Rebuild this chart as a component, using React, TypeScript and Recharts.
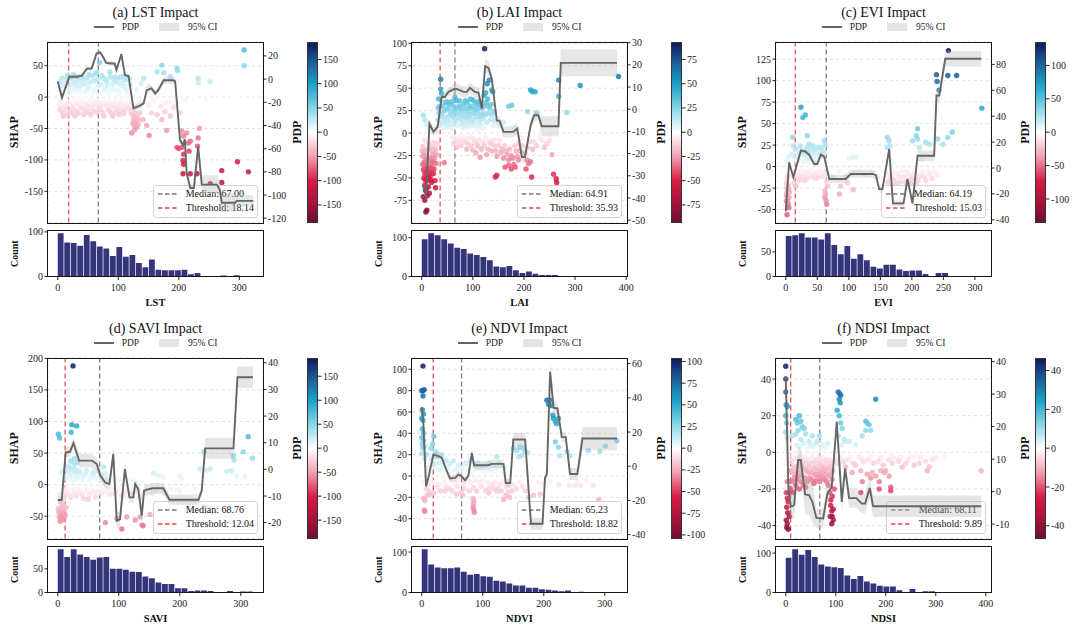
import React from 'react'
import {
  ComposedChart, BarChart, Bar, Scatter, Line, Area, XAxis, YAxis,
  CartesianGrid, ReferenceLine,
} from 'recharts'

type Pt = [number, number]
type PdpPt = [number, number, number] // x, pdp, half width of the 95% CI

// ---------- (a) LST ----------
const lstScatter: Pt[] = [
  [3, 12], [6, 18], [9, 8], [12, 22], [15, 28], [18, 14], [21, 30], [24, 10], [27, 25], [30, 18], [33, 32], [36, 12],
  [39, 26], [42, 20], [45, 8], [48, 30], [51, 16], [54, 24], [57, 34], [60, 12], [63, 38], [66, 28], [69, 55], [64, 39],
  [72, 20], [75, 30], [78, 14], [81, 24], [84, 10], [87, 32], [90, 20], [93, 27], [95, 32], [98, 12], [101, 22], [104, 32],
  [108, 33], [111, 18], [114, 28], [117, 10], [120, 20], [10, 4], [25, 5], [40, 3], [55, 6], [70, 4], [85, 5], [100, 3], [115, 6],
  [4, 25], [7, 30], [13, 16], [16, 35], [19, 8], [22, 20], [26, 36], [29, 12], [31, 24], [34, 6], [37, 18], [43, 30],
  [46, 22], [49, 12], [52, 36], [58, 8], [61, 26], [67, 18], [73, 34], [76, 10], [79, 28], [82, 18], [86, 40], [91, 12],
  [96, 24], [99, 30], [102, 8], [106, 18], [109, 26], [112, 12], [118, 30],
  [2, -10], [5, -16], [8, -24], [11, -12], [14, -20], [17, -8], [20, -26], [23, -14], [26, -18], [29, -6], [32, -22], [35, -12],
  [38, -16], [41, -8], [44, -20], [47, -4], [50, -14], [53, -18], [56, -8], [59, -22], [62, -12], [65, -5], [68, -16], [71, -10],
  [74, -24], [77, -6], [80, -14], [83, -20], [86, -8], [89, -26], [92, -12], [95, -18], [98, -6], [101, -28], [104, -10],
  [107, -22], [110, -14], [113, -4], [116, -18], [119, -8],
  [3, -20], [6, -6], [9, -30], [13, -16], [16, -28], [19, -12], [22, -4], [25, -22], [28, -30], [31, -10], [34, -26],
  [37, -4], [40, -18], [43, -28], [46, -12], [49, -24], [52, -6], [55, -28], [58, -14], [61, -4], [64, -24], [67, -8],
  [70, -20], [73, -14], [76, -30], [79, -10], [82, -4], [85, -22], [88, -14], [91, -30], [94, -8], [97, -24], [100, -14],
  [103, -20], [106, -4], [109, -26], [112, -20], [118, -12],
  [121, -24], [124, -20], [126, -30], [128, -38], [130, -34], [132, -28], [134, -36], [127, -52], [130, -48], [124, -42],
  [122, -17], [123, -28], [125, -36], [126, -22], [127, -46], [128, -32], [129, -40], [131, -26], [133, -44], [122, -57],
  [136, -25], [141, -36], [147, -45], [151, -61], [155, -25], [164, -28], [172, -36], [177, -23], [180, -53], [186, -30],
  [191, -17], [194, -14], [202, -25], [205, -54], [208, -62], [213, -57], [219, -70], [197, -80], [200, -82], [205, -80],
  [208, -91], [216, -73], [207, -101], [208, -107], [207, -122], [219, -122], [217, -86], [230, -122], [231, -78], [234, -50],
  [232, -65], [252, -138], [271, -117], [271, -136], [297, -103], [315, -119],
  [135, -8], [140, -4], [150, -12], [158, -6], [160, -3], [170, -15], [178, -9], [185, -8], [195, -3], [210, -5], [225, -2],
  [245, -4], [293, 0],
  [142, 30], [164, 40], [172, 51], [175, 39], [186, 33], [197, 46], [198, 42], [232, 30], [232, 23], [252, 25], [308, 75],
  [308, 50], [150, 18], [160, 10], [130, 12], [138, 22],
]
const lstPdp: PdpPt[] = [
  [0, -2, 2], [7, -16, 2], [19, 2, 2], [32, 2, 2], [40, 3, 2], [48, 9, 2], [56, 9, 2], [64, 22, 2], [70, 23, 2], [75, 19, 2],
  [80, 14, 2], [89, 13.5, 2], [94, 13.5, 2], [97, 8, 2], [105, 21.5, 2], [111, 3.5, 2], [117, 2.6, 2], [125, -25, 2.5],
  [135, -23, 2.5], [142, -21, 2.5], [147, -9.5, 2.5], [155, -8, 2.5], [161, -12.4, 2.5], [166, -9.5, 2.5], [175, -1, 3],
  [191, -1, 3], [194, -2, 3], [202, -52.6, 3], [207, -57, 3], [210, -52, 3], [213, -81, 3], [219, -94, 3], [225, -94, 3],
  [232, -58, 3], [238, -91, 8], [263, -91, 8], [268, -96, 8], [271, -106.6, 8], [293, -106.6, 8], [296, -105, 5], [323, -105, 5],
]
const lstCounts = [97, 76, 75, 69, 93, 79, 67, 63, 46, 66, 44, 48, 30, 21, 38, 15, 14, 14, 14, 15, 5, 8, 0, 0, 1, 2, 0, 3, 0, 1]

// ---------- (b) LAI ----------
const laiScatter: Pt[] = [
  [2, -26], [3, -41], [6, -45], [10, -53], [13, -60], [17, -45], [23, -45], [26, -53], [27, -61], [15, -67], [8, -88],
  [10, -86], [3, -71], [6, -58], [13, -38], [20, -34], [10, -26], [16, -19], [26, -12], [2, -15], [5, -8], [4, -33],
  [7, -30], [12, -48], [18, -38], [22, -28], [8, -20], [14, -12], [24, -22], [19, -55],
  [1, -20], [2, -35], [4, -24], [4, -50], [5, -40], [7, -52], [8, -36], [9, -44], [9, -62], [11, -30], [11, -40], [12, -18],
  [14, -50], [15, -32], [16, -44], [17, -28], [18, -52], [19, -16], [20, -46], [21, -24], [21, -40], [22, -10], [23, -32],
  [24, -40], [25, -28], [27, -18], [28, -34], [29, -24], [30, -12], [6, -75], [11, -70], [7, -64],
  [3, 20], [6, 15], [13, 7], [9, 10], [18, 4],
  [37, 60], [37, 49], [39, 44], [44, -33], [32, 28], [35, 30], [38, 18], [40, 22], [43, 12], [45, 15], [48, 26], [50, 35],
  [53, 8], [55, 10], [58, 20], [60, 25], [63, 14], [65, 40], [68, 36], [70, 18], [73, 30], [75, 28], [78, 10], [80, 12],
  [83, 24], [85, 36], [88, 16], [90, 20], [93, 28], [95, 38], [98, 12], [100, 15], [100, 37], [103, 22], [105, 26], [108, 32],
  [110, 35], [113, 18], [115, 10], [118, 28], [120, 22], [122, 42], [125, 45], [128, 55], [132, 59], [137, 48], [139, 46],
  [130, 30], [135, 15], [140, 8], [50, 6], [80, 5], [110, 4], [123, 94], [60, 5], [90, 7], [36, 8], [120, 6],
  [31, 15], [33, 38], [34, 22], [36, 12], [41, 30], [42, 6], [44, 25], [46, 34], [47, 10], [49, 18], [51, 28], [52, 14],
  [54, 32], [56, 22], [57, 8], [59, 35], [61, 18], [62, 30], [64, 10], [66, 24], [67, 14], [69, 28], [71, 8], [72, 22],
  [74, 36], [76, 16], [77, 26], [79, 20], [81, 32], [82, 8], [84, 18], [86, 28], [87, 10], [89, 34], [91, 14], [92, 24],
  [94, 18], [96, 30], [97, 8], [99, 22], [101, 28], [102, 12], [104, 34], [106, 18], [107, 8], [109, 24], [111, 28],
  [112, 14], [114, 20], [116, 32], [117, 6], [119, 16], [121, 30], [124, 20], [126, 34], [127, 12], [129, 38], [131, 22],
  [133, 28], [136, 32], [138, 20], [141, 24], [143, 14],
  [60, -5], [70, -10], [80, -8], [90, -12], [100, -6], [100, -19], [108, -13], [110, -15], [114, -27], [120, -10], [130, -18],
  [140, -8], [150, -14], [155, -22], [160, -28], [165, -20], [170, -30], [175, -25], [180, -35], [185, -20], [190, -12],
  [195, -6], [220, -10], [230, -5], [245, -12], [250, -8], [75, -4], [95, -3], [125, -5], [145, -20], [135, -12],
  [62, -12], [65, -6], [68, -16], [72, -6], [77, -14], [82, -4], [85, -10], [88, -18], [92, -6], [97, -14], [103, -9],
  [106, -22], [112, -8], [117, -18], [122, -14], [127, -24], [132, -10], [137, -20], [142, -14], [147, -26], [152, -8],
  [157, -18], [162, -14], [167, -24], [172, -18], [178, -28], [182, -14], [187, -26], [192, -20], [197, -14], [202, -22],
  [207, -16], [212, -10], [217, -18], [225, -14], [235, -8], [240, -16],
  [144, -49], [147, -47], [163, -38], [170, -36], [175, -40], [183, -38], [176, -27], [189, -30], [206, -30], [209, -34],
  [213, -32], [204, -40], [215, -49], [258, -46], [263, -51], [264, -55], [255, -24],
  [170, 30], [176, 31], [213, 48], [217, 46], [222, 46], [207, 24], [225, 22], [268, 59], [268, 41], [284, 23], [310, 53],
  [385, 63], [199, -2], [238, 0], [251, -2], [160, 12], [150, 8], [180, 6],
]
const laiPdp: PdpPt[] = [
  [2, -34, 2], [8.5, -39.3, 2], [15, -6.5, 2], [23, -10.2, 2], [31, -8, 2], [39, 5.5, 2], [45, 5.5, 2], [52, 7.8, 2],
  [65, 9.3, 2.5], [72, 8.8, 2.5], [81.5, 7.8, 2.5], [88, 7.8, 2.5], [94.6, 9.6, 2.5], [104, 7.8, 2.5], [111, 7.5, 2.5],
  [117.4, 0.3, 2], [124, 19.4, 3], [130.5, 18.6, 3], [137, 13.8, 3], [146.8, -5, 2], [152, -5.2, 2], [160, -10.2, 2.5],
  [179, -10.2, 2.5], [187, -8.7, 2.5], [195.7, -21.5, 2.5], [202, -21.5, 2.5], [213, -7.2, 2.5], [220, -2.7, 2.5],
  [228, -2.7, 2.5], [235, -7.7, 4.5], [267.5, -7.7, 4.5], [272, 20.9, 6], [382, 20.9, 6],
]
const laiCounts = [96, 111, 106, 96, 85, 74, 71, 59, 55, 50, 42, 26, 24, 27, 16, 9, 13, 7, 4, 4, 4, 0, 1, 0, 0, 0, 0, 0, 0, 1]

// ---------- (c) EVI ----------
const eviScatter: Pt[] = [
  [1, -34], [3, -40], [4, -44], [2, -56], [3, -29], [5, -36], [1, -19], [3, -11], [4, 11], [1, 7], [8, 14], [11, 34],
  [12, 24], [13, -19], [16, -23], [11, -11], [24, 69], [27, 57], [31, 60], [34, 36], [33, 22], [37, 26], [45, 20], [53, 22],
  [61, 30], [58, 18], [2, -25], [6, -30], [5, -48], [8, -5],
  [1, -40], [2, -30], [3, -47], [4, -22], [2, -14], [5, -26],
  [18, 8], [22, 15], [28, 5], [35, 12], [40, 18], [48, 7], [55, 14], [60, 3], [42, 3], [30, 10], [50, 22], [63, 25],
  [14, 12], [16, 20], [19, 4], [21, 10], [23, 24], [26, 18], [29, 14], [31, 6], [33, 16], [36, 20], [38, 8], [41, 14],
  [43, 24], [46, 12], [49, 16], [51, 6], [54, 10], [57, 22], [59, 12], [62, 16], [64, 6],
  [15, -8], [20, -14], [25, -12], [35, -6], [45, -10], [55, -5], [65, -8], [75, -12], [85, -6], [95, -10], [105, -8],
  [115, -4], [125, -9], [135, -6], [145, -12], [155, -5], [30, -16], [50, -13],
  [17, -10], [19, -6], [22, -16], [24, -8], [27, -4], [29, -12], [32, -8], [34, -14], [37, -10], [39, -4], [42, -12],
  [44, -6], [47, -14], [49, -8], [52, -10], [54, -4], [57, -12], [59, -6], [61, -10],
  [62, -36], [64, -40], [65, -44], [62, -28], [66, -23], [65, -17], [63, -32],
  [85, -32], [87, -23], [98, -19], [107, -27], [106, 11], [111, 11], [101, 10],
  [160, -10], [165, -15], [170, -8], [175, -20], [180, -12], [185, -6], [190, -18], [195, -10], [200, -14], [205, -7],
  [210, -16], [215, -9], [220, -12], [225, -5], [230, -10], [168, -22], [198, -20],
  [158, -6], [162, -18], [167, -12], [172, -16], [177, -8], [182, -18], [187, -12], [192, -6], [197, -16], [202, -10],
  [207, -20], [212, -12], [217, -6], [222, -16], [227, -8], [232, -14], [236, -6], [240, -10],
  [161, 34], [164, 30], [165, 24], [161, 22], [209, 44], [207, 36], [209, 32], [201, 30], [212, 22], [222, 28], [228, 26],
  [241, 32], [249, 26], [257, 34], [264, 40], [239, 107], [240, 99], [243, 89], [257, 106], [258, 135], [271, 106],
  [311, 68], [170, 5], [215, 8],
]
const eviPdp: PdpPt[] = [
  [0, -33.5, 2], [5.3, 4.4, 2], [12, -7.2, 2], [23.8, 13.4, 2], [30.7, 12.9, 2], [37, 10.3, 2], [45, 3.1, 2], [50, 3.1, 2],
  [55.5, 10.3, 2], [61, 8.8, 2], [69, -8.5, 3], [95, -8.5, 3], [103, -4.6, 3], [137.6, -4.6, 3], [143, -5.5, 3],
  [148, -16.3, 3], [153.4, -16.3, 3], [164, 14.7, 2], [170, -27.3, 2], [186.8, -27.3, 2], [193, -8.5, 2], [201, -27.3, 2],
  [209, 9.5, 4], [235.4, 9.5, 4], [239, 56, 5], [243.4, 56, 5], [253, 84.4, 6], [310, 84.4, 6],
]
const eviCounts = [82, 84, 88, 79, 79, 75, 88, 64, 45, 62, 36, 45, 33, 20, 16, 24, 24, 14, 11, 12, 12, 5, 0, 7, 7, 0, 0, 0, 0, 1]

// ---------- (d) SAVI ----------
const saviScatter: Pt[] = [
  [25, 188], [1, 80], [3, 74], [22, 83], [23, 95], [31, 93], [27, 41], [28, 33], [18, 29], [21, 37], [7, 21],
  [1, -38], [3, -51], [7, -48], [4, -58], [12, -47], [10, -40], [9, -32], [4, -16], [12, -11], [15, -6], [48, -23],
  [50, -23], [6, -28], [14, -36], [2, -44], [10, -55], [3, -42], [5, -52], [8, -45], [11, -50], [6, -36], [9, -24],
  [15, 10], [20, 18], [25, 5], [30, 14], [35, 22], [40, 8], [45, 16], [50, 3], [55, 12], [60, 20], [65, 7], [70, 15],
  [75, 28], [32, 35], [28, 20],
  [10, 14], [12, 24], [17, 8], [19, 22], [22, 12], [24, 26], [27, 8], [29, 24], [33, 10], [37, 18], [42, 12], [47, 22],
  [52, 8], [57, 18], [62, 12], [67, 22], [72, 8], [77, 18], [82, 12], [87, 6], [92, 10], [97, 4], [102, 8],
  [15, -10], [25, -6], [35, -14], [45, -4], [55, -9], [65, -12], [75, -8], [85, -15], [95, -10], [105, -18], [115, -6],
  [125, -12], [135, -20], [145, -9], [155, -14], [165, -5], [180, -5], [195, -8], [210, -4], [225, -6], [70, -4], [90, -6],
  [12, -18], [17, -14], [20, -4], [22, -20], [27, -12], [30, -18], [32, -4], [37, -8], [40, -16], [42, -22], [47, -10],
  [52, -16], [57, -4], [60, -12], [62, -20], [67, -6], [72, -14], [77, -4], [80, -10], [87, -8], [92, -14], [100, -6],
  [110, -12], [118, -10], [130, -8], [140, -14], [150, -6], [160, -10], [170, -8], [175, -14], [185, -6], [200, -10],
  [78, -60], [97, -54], [105, -70], [113, -51], [127, -56], [135, -51], [138, -64], [140, -65], [151, -47],
  [157, 18], [165, 15], [173, 11], [200, 13], [203, 10], [192, 5], [233, 25], [240, 52], [244, 23], [250, 25], [277, 21],
  [285, 22], [288, 46], [289, 39], [304, 52], [312, 76], [319, 42], [307, 13], [293, 14], [120, 8], [140, 5],
]
const saviPdp: PdpPt[] = [
  [0, -11.5, 1.5], [6.5, -11.5, 1.5], [13, 6.4, 2], [20, 6.6, 2], [25.7, 9.9, 2], [35, 3.3, 2.5], [47.5, 3.3, 2.5],
  [56, 3.3, 2.5], [64, 2, 2.5], [69.4, -2.1, 2], [77.6, -4.9, 2], [84.7, -5.5, 2], [91, 5.8, 3], [96.7, -19.3, 3],
  [102, -18.7, 3], [110, 0.1, 3], [117.5, -10.5, 2], [124, -10.5, 2], [126.8, -5.5, 2], [132, -7.4, 2], [137.7, -17.4, 3],
  [141.5, -8, 2], [146, -7.6, 2], [155.7, -7.1, 2], [173, -7.1, 2], [183, -11.4, 2], [230.6, -11.4, 2], [236, -8, 2],
  [241.5, 7.9, 3.9], [288, 7.9, 3.9], [294.5, 34.6, 4], [320, 34.6, 4],
]
const saviCounts = [91, 75, 91, 80, 75, 69, 74, 75, 50, 50, 48, 44, 43, 34, 30, 21, 18, 18, 9, 9, 3, 4, 4, 3, 0, 0, 3, 0, 2, 2]

// ---------- (e) NDVI ----------
const ndviScatter: Pt[] = [
  [2, 103], [0, 80], [2, 80], [4, 81], [2, 75], [0, 54], [2, 52], [0, 36], [3, 33], [2, 26], [0, 21], [20, 37], [18, 30],
  [22, 23], [15, 26], [26, 21], [33, 20], [1, 44], [3, 40], [1, 30], [4, 28], [1, 62], [3, 58],
  [4, -32], [5, -33], [3, -21], [5, -23], [9, -18], [7, -12], [14, -17], [3, -6],
  [10, 8], [20, 12], [30, 6], [40, 15], [50, 4], [60, 10], [70, 3], [80, 14], [90, 7], [100, 5], [110, 12], [120, 4],
  [130, 9], [140, 3],
  [5, 16], [8, 20], [12, 4], [16, 16], [22, 8], [24, 18], [28, 12], [32, 4], [36, 10], [42, 8], [46, 12], [52, 14],
  [56, 6], [62, 4], [66, 8], [72, 12], [76, 6], [82, 4], [86, 10], [92, 12], [96, 8], [102, 10], [106, 4], [112, 6],
  [116, 10], [122, 8], [126, 12], [132, 4], [136, 8],
  [15, -5], [25, -10], [35, -3], [45, -12], [55, -7], [65, -15], [75, -4], [85, -11], [95, -6],
  [105, -14], [115, -8], [125, -12], [135, -5], [145, -9],
  [10, -8], [12, -14], [18, -6], [20, -16], [28, -8], [30, -14], [38, -6], [40, -10], [48, -4], [50, -14], [58, -10],
  [60, -4], [68, -8], [70, -12], [78, -14], [80, -6], [88, -4], [90, -14], [98, -10], [100, -4], [108, -6], [110, -16],
  [118, -12], [120, -6], [128, -8], [130, -14], [138, -10], [140, -6], [150, -8], [155, -12], [160, -6], [165, -10], [170, -14],
  [84, -21], [85, -23], [84, -29], [85, -31], [86, -34], [85, -26],
  [134, -22], [138, -18], [144, -20], [142, -15], [148, -14], [123, -14], [115, -10], [109, -12], [57, -17], [38, -14], [67, -18],
  [150, 26], [156, 24], [161, 27], [166, 26], [169, 23], [173, 22], [164, 19], [159, 18], [123, 18],
  [175, -20], [183, -18], [194, -17], [200, -7], [191, -6],
  [205, 71], [208, 67], [210, 71], [212, 66], [215, 57], [216, 54], [219, 51], [221, 49], [224, 54], [219, 32], [224, 27],
  [226, 19], [238, 23], [243, 19], [273, 24], [292, 23], [301, 28], [320, 33], [242, -9], [251, -9], [260, -9], [281, -9],
  [290, -22], [210, -5], [225, -8], [240, -3], [255, -6], [270, -4],
]
const ndviPdp: PdpPt[] = [
  [0, 34.6, 2], [2.7, 24.4, 2], [7, -11.7, 2], [11, -6.4, 2], [19, 6.8, 2], [27, 5.9, 2], [33, 4.9, 2], [41, -2.9, 2],
  [46.4, -7.2, 2], [54.6, -6.8, 2], [60, -4.9, 2], [64, -5.5, 2], [71, -8.2, 2], [76.5, -5.5, 2], [82, 7.8, 3],
  [85.8, 0.6, 2.5], [90, 0.6, 2.5], [109, 0.6, 2.5], [114.8, 1.4, 2.5], [134, 1.4, 2.5], [137.7, -9.8, 2.5], [145, -9.8, 2.5],
  [150, 15.6, 3.9], [169.4, 15.6, 3.9], [179, -33.6, 3.5], [198, -33.6, 3.5], [202, -6.8, 3], [205, -4.9, 3],
  [210.4, 55.3, 5], [216, 34.2, 5], [222.4, 33.8, 3], [229.5, 17, 3], [236, 17, 3], [243, -4.5, 3.5], [255, -4.5, 3.5],
  [263.4, 16.2, 6.8], [320, 16.2, 6.8],
]
const ndviCounts = [107, 69, 62, 60, 60, 62, 51, 44, 46, 40, 39, 29, 27, 22, 17, 17, 12, 12, 8, 7, 5, 3, 5, 1, 2, 1, 0, 0, 0, 1]

// ---------- (f) NDSI ----------
const ndsiScatter: Pt[] = [
  [0, 47], [0, 40], [0, 33], [1, 26], [3, 25], [0, 20], [2, 16], [0, 11], [3, 8], [1, 2],
  [1, -22], [3, -25], [2, -30], [4, -33], [1, -37], [3, -39], [5, -42], [7, -35], [5, -27], [3, -16], [7, -10], [8, -16],
  [10, -20], [6, -22], [2, -41],
  [20, 18], [27, 20], [23, 16], [30, 17], [37, 13], [40, 10], [20, 10], [30, 7], [47, 6], [53, 9], [67, 9], [63, 6],
  [13, 9], [33, 14], [25, 12],
  [22, 4], [28, 3], [35, 5], [42, 2], [48, 4], [55, 3], [60, 5], [70, 2], [75, 4], [80, 3], [85, 5],
  [12, -5], [18, -12], [24, -8], [30, -16], [36, -4], [42, -10], [48, -14], [54, -6], [60, -12], [66, -3], [72, -9],
  [78, -15], [84, -6], [90, -11], [20, -18], [40, -19], [56, -17], [70, -13], [30, -2], [50, -1], [85, -18], [88, -22],
  [15, -22], [27, -20],
  [11, -10], [13, -16], [14, -2], [16, -8], [17, -14], [19, -4], [21, -10], [22, -15], [23, -3], [25, -7], [26, -13],
  [28, -5], [29, -11], [31, -8], [32, -13], [34, -6], [35, -18], [37, -9], [38, -14], [39, -2], [41, -6], [43, -16],
  [44, -4], [45, -11], [46, -8], [49, -6], [51, -11], [52, -15], [53, -3], [55, -9], [57, -12], [58, -5], [59, -16],
  [61, -8], [62, -4], [63, -14], [64, -10], [65, -6], [67, -12], [68, -16], [69, -5], [71, -7], [73, -11], [74, -3],
  [75, -14], [76, -8], [77, -5], [79, -10], [80, -12], [81, -4], [82, -16], [83, -9], [86, -13], [87, -4], [89, -8],
  [91, -6], [93, -15], [94, -10], [96, -5], [97, -20],
  [90, -29], [92, -32], [93, -35], [95, -37], [92, -39], [90, -26], [93, -24], [89, -35], [95, -31],
  [105, 33], [108, 32], [110, 31], [107, 29], [109, 27], [103, 23], [107, 20], [110, 16], [113, 13], [105, 9], [117, 7],
  [112, 4], [120, 6],
  [180, 29], [160, 17], [163, 16], [167, 15], [170, 12], [160, 12], [153, 9], [140, 4], [127, 6],
  [150, -10], [153, -16], [150, -22], [163, -12], [170, -14], [173, -11], [180, -13], [187, -16], [190, -10], [197, -11],
  [200, -10], [207, -13], [210, -19], [210, -21], [187, -20], [233, -8], [257, -7], [283, -10], [287, -8], [317, -2],
  [391, -10], [293, -4], [267, -6], [240, -6], [227, -4], [213, -6], [140, -7], [133, -11], [120, -8],
  [100, -4], [105, -6], [110, -3], [115, -5], [125, -4], [135, -6], [145, -2], [155, -5], [165, -4], [175, -6], [185, -5],
  [195, -7], [205, -4], [215, -3], [225, -5], [245, -4], [260, -2], [280, -5], [300, -3],
  [130, -2], [150, -3], [170, -2], [190, -3], [210, -1], [230, -2], [250, -2], [270, -3],
]
const ndsiPdp: PdpPt[] = [
  [0, 35.4, 3], [5.3, 0.9, 4], [10, -4.7, 4], [16.7, -4.2, 4], [24.7, 9.7, 4], [30, 9.7, 4], [38.7, -0.9, 6],
  [46.7, -1.1, 6], [53.3, -3.2, 6], [61.3, -8.1, 3], [74.7, -8.3, 3], [83.3, -0.6, 3], [92, 1.4, 3], [102, 21.5, 3],
  [110, 2, 3], [112, -3.2, 3], [118.7, 7.1, 3], [126.7, -2, 3], [141.3, -2, 3], [152, -3.7, 3], [158.7, -3.7, 3],
  [168, 1.1, 3], [174.7, -4.5, 3.3], [391, -4.5, 3.3],
]
const ndsiCounts = [88, 110, 96, 108, 90, 71, 66, 64, 62, 43, 34, 42, 28, 23, 17, 15, 15, 6, 0, 9, 0, 3, 3, 0, 0, 0, 0, 0, 0, 1]

// ---------- ticks ----------
const ticks0to300 = [0, 100, 200, 300]
const ticks0to400 = [0, 100, 200, 300, 400]
const ticksEvi = [0, 50, 100, 150, 200, 250, 300]
const cbTicks150 = [-150, -100, -50, 0, 50, 100, 150]

// diverging colour map: crimson -> white -> cyan -> navy
const CMAP: [number, string][] = [
  [0, '#6e0f32'], [0.1, '#a4123a'], [0.23, '#d81c44'], [0.366, '#f0a0b2'], [0.5, '#ffffff'],
  [0.634, '#88d6e8'], [0.77, '#1ca0c6'], [0.9, '#1c5896'], [1, '#0f1c5a'],
]

const hexToRgb = (h: string) => {
  const n = parseInt(h.slice(1), 16)
  return [(n >> 16) & 255, (n >> 8) & 255, n & 255]
}

function cmap(v: number, vmax: number) {
  const t = Math.max(0, Math.min(1, 0.5 + v / (2 * vmax)))
  for (let i = 1; i < CMAP.length; i++) {
    if (t <= CMAP[i][0]) {
      const [t0, c0] = CMAP[i - 1]
      const [t1, c1] = CMAP[i]
      const f = (t - t0) / (t1 - t0)
      const a = hexToRgb(c0)
      const b = hexToRgb(c1)
      return `rgb(${a.map((x, k) => Math.round(x + (b[k] - x) * f)).join(',')})`
    }
  }
  return CMAP[CMAP.length - 1][1]
}

const CMAP_CSS = `linear-gradient(to top, ${CMAP.map(([t, c]) => `${c} ${t * 100}%`).join(', ')})`

interface PanelCfg {
  title: string
  feature: string
  left: number
  top: number
  scatter: Pt[]
  pdp: PdpPt[]
  counts: number[]
  range: number
  xDomain: [number, number]
  xTicks: number[]
  shapDomain: [number, number]
  shapTicks: number[]
  pdpDomain: [number, number]
  pdpTicks: number[]
  vmax: number
  cbTicks: number[]
  histMax: number
  histTicks: number[]
  median: number
  threshold: number
}

const panels: PanelCfg[] = [
  {
    title: '(a) LST Impact', feature: 'LST', left: 48, top: 42.3,
    scatter: lstScatter, pdp: lstPdp, counts: lstCounts, range: 323,
    xDomain: [-16.15, 339.15], xTicks: ticks0to300,
    shapDomain: [-199.5, 87.8], shapTicks: [-150, -100, -50, 0, 50],
    pdpDomain: [-123.6, 32], pdpTicks: [-120, -100, -80, -60, -40, -20, 0, 20],
    vmax: 186, cbTicks: cbTicks150, histMax: 102, histTicks: [0, 100], median: 67.0, threshold: 18.14,
  },
  {
    title: '(b) LAI Impact', feature: 'LAI', left: 412, top: 42.3,
    scatter: laiScatter, pdp: laiPdp, counts: laiCounts, range: 382.5,
    xDomain: [-19.1, 401.6], xTicks: ticks0to400,
    shapDomain: [-99.6, 101.5], shapTicks: [-75, -50, -25, 0, 25, 50, 75, 100],
    pdpDomain: [-51, 30.3], pdpTicks: [-50, -40, -30, -20, -10, 0, 10, 20, 30],
    vmax: 93, cbTicks: [-75, -50, -25, 0, 25, 50, 75], histMax: 117, histTicks: [0, 100], median: 64.91, threshold: 35.93,
  },
  {
    title: '(c) EVI Impact', feature: 'EVI', left: 776, top: 42.3,
    scatter: eviScatter, pdp: eviPdp, counts: eviCounts, range: 310,
    xDomain: [-15.5, 325.5], xTicks: ticksEvi,
    shapDomain: [-65, 145], shapTicks: [-50, -25, 0, 25, 50, 75, 100, 125],
    pdpDomain: [-42, 97.3], pdpTicks: [-40, -20, 0, 20, 40, 60, 80],
    vmax: 135, cbTicks: [-100, -50, 0, 50, 100], histMax: 92.4, histTicks: [0, 50], median: 64.19, threshold: 15.03,
  },
  {
    title: '(d) SAVI Impact', feature: 'SAVI', left: 48, top: 358.3,
    scatter: saviScatter, pdp: saviPdp, counts: saviCounts, range: 320.4,
    xDomain: [-16, 336.4], xTicks: ticks0to300,
    shapDomain: [-85, 200.5], shapTicks: [-50, 0, 50, 100, 150, 200],
    pdpDomain: [-25.9, 41.8], pdpTicks: [-20, -10, 0, 10, 20, 30, 40],
    vmax: 188, cbTicks: cbTicks150, histMax: 96, histTicks: [0, 50], median: 68.76, threshold: 12.04,
  },
  {
    title: '(e) NDVI Impact', feature: 'NDVI', left: 412, top: 358.3,
    scatter: ndviScatter, pdp: ndviPdp, counts: ndviCounts, range: 320.4,
    xDomain: [-16, 336.4], xTicks: ticks0to300,
    shapDomain: [-58.5, 110.6], shapTicks: [-40, -20, 0, 20, 40, 60, 80, 100],
    pdpDomain: [-42.2, 63.3], pdpTicks: [-40, -20, 0, 20, 40, 60],
    vmax: 104, cbTicks: [-100, -75, -50, -25, 0, 25, 50, 75, 100], histMax: 112.5, histTicks: [0, 100],
    median: 65.23, threshold: 18.82,
  },
  {
    title: '(f) NDSI Impact', feature: 'NDSI', left: 776, top: 358.3,
    scatter: ndsiScatter, pdp: ndsiPdp, counts: ndsiCounts, range: 391,
    xDomain: [-19.5, 410.5], xTicks: ticks0to400,
    shapDomain: [-47, 51.5], shapTicks: [-40, -20, 0, 20, 40],
    pdpDomain: [-14.4, 41.1], pdpTicks: [-10, 0, 10, 20, 30, 40],
    vmax: 46.5, cbTicks: [-40, -20, 0, 20, 40], histMax: 115.5, histTicks: [0, 100], median: 68.11, threshold: 9.89,
  },
]

const FONT = '"Liberation Serif", "Times New Roman", serif'
const FRAME_W = 215
const MAIN_H = 180.4
const HIST_GAP = 8.2
const HIST_H = 45.5
const LEFT_W = 48
const RIGHT_W = 45
const PAD_T = 10
const PAD_B = 5
const X_AXIS_H = 32
const CB_OFFSET = 259
const CB_W = 11
const PDP_GRAY = '#666666'

const tickStyle = { fontSize: 10, fill: '#222', fontFamily: FONT }

const axisLabel = (value: string, offset: number, position: string, size: number) => ({
  value, angle: -90, position, offset,
  style: { textAnchor: 'middle', fontSize: size, fontWeight: 'bold', fill: '#111', fontFamily: FONT },
})

function Frame({ left, top, width, height }: { left: number; top: number; width: number; height: number }) {
  return (
    <div style={{
      position: 'absolute', left: left - 0.8, top: top - 0.8, width: width + 1.6, height: height + 1.6,
      border: '1.6px solid #151515', boxSizing: 'border-box', pointerEvents: 'none',
    }} />
  )
}

function DashSample({ color }: { color: string }) {
  return (
    <svg width={20} height={4} style={{ display: 'block' }}>
      <line x1={0} y1={2} x2={20} y2={2} stroke={color} strokeWidth={1.3} strokeDasharray="4.5 2.5" />
    </svg>
  )
}

function Panel({ p }: { p: PanelCfg }) {
  const chartW = LEFT_W + FRAME_W + RIGHT_W
  const mainChartH = PAD_T + MAIN_H + PAD_B
  const histTop = p.top + MAIN_H + HIST_GAP
  const histChartH = 5 + HIST_H + X_AXIS_H

  const scatterData = [...p.scatter]
    .sort((a, b) => Math.abs(a[1]) - Math.abs(b[1]))
    .map(([x, y]) => ({ x, y }))
  const pdpData = p.pdp.map(([x, v, h]) => ({ x, pdp: v, ci: [v - h, v + h] }))
  const binW = p.range / p.counts.length
  const histData = p.counts.map((count, i) => ({ x: binW * (i + 0.5), count }))
  const barPx = (binW * FRAME_W) / (p.xDomain[1] - p.xDomain[0])

  return (
    <>
      <div style={{
        position: 'absolute', left: p.left, top: p.top - 38, width: FRAME_W, textAlign: 'center',
        fontSize: 14, lineHeight: '18px', color: '#111',
      }}>{p.title}</div>

      <div style={{
        position: 'absolute', left: p.left, top: p.top - 21, width: FRAME_W, height: 12,
        display: 'flex', justifyContent: 'center', alignItems: 'center', fontSize: 9.5, color: '#222',
      }}>
        <span style={{ width: 20, borderTop: `2px solid ${PDP_GRAY}`, marginRight: 8 }} />
        <span>PDP</span>
        <span style={{ width: 20, height: 8, background: '#e4e4e4', marginLeft: 20, marginRight: 9 }} />
        <span>95% CI</span>
      </div>

      {/* SHAP scatter, grid and reference lines */}
      <div style={{ position: 'absolute', left: p.left - LEFT_W, top: p.top - PAD_T }}>
        <ComposedChart width={chartW} height={mainChartH}
          margin={{ top: PAD_T, right: RIGHT_W, bottom: PAD_B, left: 0 }}>
          <CartesianGrid strokeDasharray="3 3" stroke="#d6d6d6" strokeWidth={0.7} />
          <XAxis type="number" dataKey="x" domain={p.xDomain} ticks={p.xTicks} allowDataOverflow
            tick={false} tickLine={false} axisLine={false} height={0} />
          <YAxis type="number" dataKey="y" domain={p.shapDomain} ticks={p.shapTicks} allowDataOverflow
            interval={0} width={LEFT_W} axisLine={false} tickSize={3.5} tickMargin={1.5}
            tickLine={{ stroke: '#222' }} tick={tickStyle}
            label={axisLabel('SHAP', 14, 'insideLeft', 12)} />
          <Scatter data={scatterData} isAnimationActive={false}
            shape={(s: any) => (
              <circle cx={s.cx} cy={s.cy} r={2.7} fill={cmap(s.payload.y, p.vmax)} fillOpacity={0.85} />
            )} />
          <ReferenceLine x={p.median} stroke="#7a7a7a" strokeWidth={1.2} strokeDasharray="5 3" />
          <ReferenceLine x={p.threshold} stroke="#e5484d" strokeWidth={1.2} strokeDasharray="5 3" />
        </ComposedChart>
      </div>

      <div style={{
        position: 'absolute', right: 1080 - (p.left + FRAME_W - 5), bottom: 631 - (p.top + MAIN_H - 5),
        background: 'rgba(255,255,255,0.8)', border: '1px solid #d2d2d2', borderRadius: 3,
        padding: '1.5px 3px 1.5px 4px', fontSize: 10, lineHeight: '14px', color: '#111',
      }}>
        <div style={{ display: 'flex', alignItems: 'center' }}>
          <DashSample color="#7a7a7a" /><span style={{ marginLeft: 8 }}>Median: {p.median.toFixed(2)}</span>
        </div>
        <div style={{ display: 'flex', alignItems: 'center' }}>
          <DashSample color="#e5484d" /><span style={{ marginLeft: 8 }}>Threshold: {p.threshold.toFixed(2)}</span>
        </div>
      </div>

      {/* PDP twin axis on top */}
      <div style={{ position: 'absolute', left: p.left - LEFT_W, top: p.top - PAD_T }}>
        <ComposedChart width={chartW} height={mainChartH} data={pdpData}
          margin={{ top: PAD_T, right: 0, bottom: PAD_B, left: LEFT_W }}>
          <XAxis type="number" dataKey="x" domain={p.xDomain} ticks={p.xTicks} allowDataOverflow
            tick={false} tickLine={false} axisLine={false} height={0} />
          <YAxis type="number" orientation="right" domain={p.pdpDomain} ticks={p.pdpTicks} allowDataOverflow
            interval={0} width={RIGHT_W} axisLine={false} tickSize={3.5} tickMargin={1.5}
            tickLine={{ stroke: '#222' }} tick={tickStyle}
            label={axisLabel('PDP', 11, 'insideRight', 12)} />
          <Area type="linear" dataKey="ci" stroke="none" fill="#b4b4b4" fillOpacity={0.33}
            isAnimationActive={false} dot={false} activeDot={false} />
          <Line type="linear" dataKey="pdp" stroke={PDP_GRAY} strokeWidth={1.9}
            isAnimationActive={false} dot={false} activeDot={false} />
        </ComposedChart>
      </div>

      <Frame left={p.left} top={p.top} width={FRAME_W} height={MAIN_H} />

      {/* colour bar: gradient strip with its own tick axis */}
      <div style={{
        position: 'absolute', left: p.left + CB_OFFSET, top: p.top, width: CB_W, height: MAIN_H,
        background: CMAP_CSS, border: '0.8px solid #333', boxSizing: 'border-box',
      }} />
      <div style={{ position: 'absolute', left: p.left + CB_OFFSET, top: p.top - PAD_T }}>
        <ComposedChart width={CB_W + 40} height={mainChartH}
          margin={{ top: PAD_T, right: 0, bottom: PAD_B, left: 0 }}>
          <XAxis type="number" domain={[0, 1]} hide />
          <YAxis type="number" orientation="right" domain={[-p.vmax, p.vmax]} ticks={p.cbTicks} allowDataOverflow
            interval={0} width={40} axisLine={false} tickSize={3.5} tickMargin={1.5}
            tickLine={{ stroke: '#222' }} tick={tickStyle} />
        </ComposedChart>
      </div>

      {/* histogram of the feature */}
      <div style={{ position: 'absolute', left: p.left - LEFT_W, top: histTop - 5 }}>
        <BarChart width={chartW} height={histChartH} data={histData}
          margin={{ top: 5, right: RIGHT_W, bottom: 0, left: 0 }}>
          <XAxis type="number" dataKey="x" domain={p.xDomain} ticks={p.xTicks} allowDataOverflow interval={0}
            height={X_AXIS_H} axisLine={false} tickSize={3.5} tickMargin={3.5}
            tickLine={{ stroke: '#222' }} tick={tickStyle}
            label={{
              value: p.feature, position: 'insideBottom', offset: 3,
              style: { fontSize: 10.5, fontWeight: 'bold', fill: '#111', fontFamily: FONT },
            }} />
          <YAxis type="number" domain={[0, p.histMax]} ticks={p.histTicks} allowDataOverflow interval={0}
            width={LEFT_W} axisLine={false} tickSize={3.5} tickMargin={1.5}
            tickLine={{ stroke: '#222' }} tick={tickStyle}
            label={axisLabel('Count', 14, 'insideLeft', 10)} />
          <Bar dataKey="count" fill="#35357c" barSize={Math.max(1, barPx - 0.7)} isAnimationActive={false} />
        </BarChart>
      </div>

      <Frame left={p.left} top={histTop} width={FRAME_W} height={HIST_H} />
    </>
  )
}

export default function App() {
  return (
    <div style={{
      position: 'absolute', left: 0, top: 0, width: 1080, height: 631, background: '#fff',
      fontFamily: FONT, overflow: 'hidden',
    }}>
      {panels.map((p) => <Panel key={p.title} p={p} />)}
    </div>
  )
}
